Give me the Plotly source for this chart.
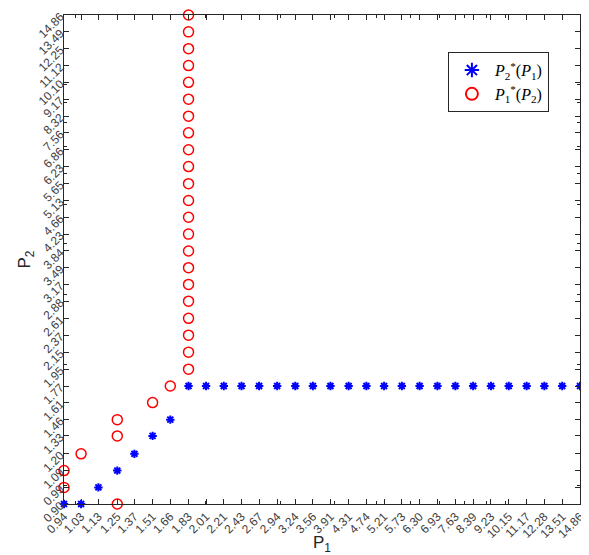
import math
import plotly.graph_objects as go

# tick labels (log-spaced levels)
x_ticks = [0.94, 1.03, 1.13, 1.25, 1.37, 1.51, 1.66, 1.83, 2.01, 2.21, 2.43, 2.67, 2.94, 3.24,
           3.56, 3.91, 4.31, 4.74, 5.21, 5.73, 6.30, 6.93, 7.63, 8.39, 9.23, 10.15, 11.17,
           12.28, 13.51, 14.86]
y_ticks = [0.90, 0.99, 1.09, 1.20, 1.33, 1.46, 1.61, 1.77, 1.95, 2.15, 2.37, 2.61, 2.88, 3.17,
           3.49, 3.84, 4.23, 4.66, 5.13, 5.65, 6.23, 6.86, 7.56, 8.32, 9.17, 10.10, 11.12,
           12.25, 13.49, 14.86]

# best response P2*(P1): x = P1 grid, y = response
br2_p1 = x_ticks
br2_p2 = [0.90, 0.90, 0.99, 1.09, 1.20, 1.33, 1.46] + [1.77] * 23

# best response P1*(P2): y = P2 grid, x = response
br1_p2 = y_ticks
br1_p1 = [1.25, 0.94, 0.94, 1.03, 1.25, 1.25, 1.51, 1.66] + [1.83] * 22

minor_vals = [1, 2, 3, 4, 5, 6, 7, 8, 9, 10]

fig = go.Figure()
fig.add_trace(go.Scatter(
    x=br2_p1, y=br2_p2, mode="markers", cliponaxis=False,
    name="<i>P</i><sub>2</sub><sup>*</sup>(<i>P</i><sub>1</sub>)",
    marker=dict(symbol="asterisk-open", size=7, color="#0000ff",
                line=dict(color="#0000ff", width=2)),
))
fig.add_trace(go.Scatter(
    x=br1_p1, y=br1_p2, mode="markers", cliponaxis=False,
    name="<i>P</i><sub>1</sub><sup>*</sup>(<i>P</i><sub>2</sub>)",
    marker=dict(symbol="circle-open", size=10, color="#ff0000",
                line=dict(color="#ff0000", width=1.5)),
))

axis_common = dict(
    type="log", showgrid=False, zeroline=False, showline=True, linecolor="#262626",
    linewidth=1, mirror="ticks", ticks="inside", ticklen=5, tickcolor="#262626",
    tickfont=dict(family="Liberation Sans, Arial", size=12, color="#404040"),
    tickangle=-45, tickmode="array", automargin=False,
    minor=dict(tickvals=minor_vals, ticks="inside", ticklen=3, tickcolor="#262626"),
)

fig.update_xaxes(
    **axis_common,
    range=[math.log10(x_ticks[0]), math.log10(x_ticks[-1])],
    tickvals=x_ticks, ticktext=[f"{v:.2f}" for v in x_ticks],
    title=dict(text="P<sub>1</sub>", font=dict(family="Liberation Sans, Arial", size=17, color="#262626"),
               standoff=0),
)
fig.update_yaxes(
    **axis_common,
    range=[math.log10(y_ticks[0]), math.log10(y_ticks[-1])],
    tickvals=y_ticks, ticktext=[f"{v:.2f}" for v in y_ticks],
    title=dict(text="P<sub>2</sub>", font=dict(family="Liberation Sans, Arial", size=17, color="#262626"),
               standoff=0),
)

fig.update_layout(
    width=581, height=547,
    margin=dict(l=56, r=9, t=7, b=51),
    plot_bgcolor="white", paper_bgcolor="white",
    showlegend=True,
    legend=dict(x=0.744, y=0.924, xanchor="left", yanchor="top",
                bgcolor="white", bordercolor="#262626", borderwidth=1,
                font=dict(family="Liberation Serif, DejaVu Serif", size=16, color="#000000"),
                itemsizing="constant", tracegroupgap=6, itemwidth=36),
)

fig.write_html("out.html")
